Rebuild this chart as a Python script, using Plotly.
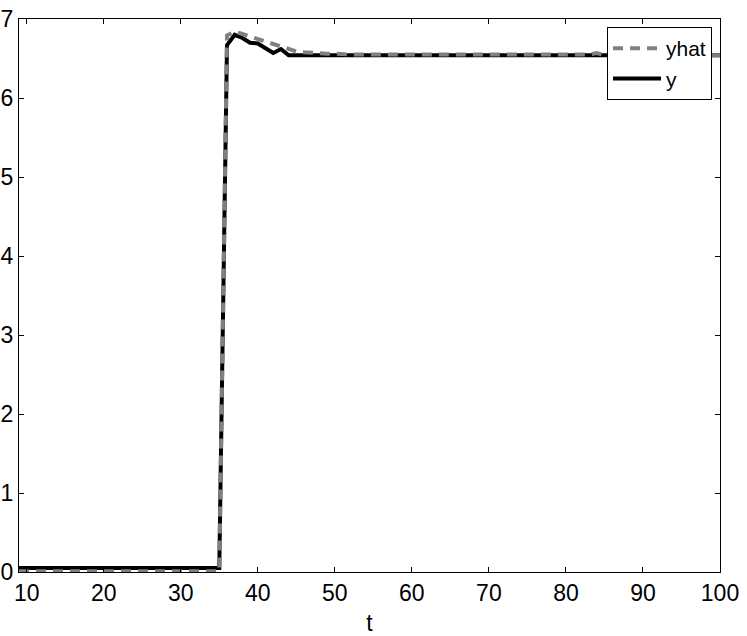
import plotly.graph_objects as go

t = list(range(9, 101))

y = ([0.05] * 27 +
     [6.67, 6.80, 6.76, 6.70, 6.69, 6.63, 6.57, 6.62, 6.54] +
     [6.54] * 56)

yhat = ([0.01] * 27 +
        [6.79, 6.84, 6.81, 6.78, 6.75, 6.72, 6.69, 6.66, 6.62, 6.59,
         6.58, 6.57, 6.57, 6.56, 6.56, 6.55, 6.55, 6.55, 6.55, 6.55] +
        [6.54] * 27 +
        [6.55, 6.57] +
        [6.54] * 16)

x_ticks = [10, 20, 30, 40, 50, 60, 70, 80, 90, 100]
y_ticks = [0, 1, 2, 3, 4, 5, 6, 7]

FONT = "Liberation Sans"

fig = go.Figure()
fig.add_trace(go.Scatter(x=t, y=y, name="y", mode="lines",
                         line=dict(color="black", width=4), legendrank=2))
fig.add_trace(go.Scatter(x=t, y=yhat, name="yhat", mode="lines",
                         line=dict(color="#808080", width=4, dash="10px,7px"),
                         legendrank=1))

axis_common = dict(showline=True, linecolor="black", linewidth=1, mirror="ticks",
                   ticks="inside", ticklen=5, tickcolor="black", showgrid=False,
                   zeroline=False, automargin=False,
                   tickfont=dict(family=FONT, size=23, color="black"))

fig.update_layout(
    width=747, height=636,
    margin=dict(l=19, r=27, t=19, b=64),
    plot_bgcolor="white", paper_bgcolor="white",
    xaxis=dict(range=[9, 100], tickvals=x_ticks,
               title=dict(text="t", font=dict(family=FONT, size=23, color="black")),
               **axis_common),
    yaxis=dict(range=[0, 7], tickvals=y_ticks, ticklabelstandoff=0, **axis_common),
    legend=dict(x=0.9886, y=0.9855, xanchor="right", yanchor="top",
                bgcolor="white", bordercolor="black", borderwidth=1,
                font=dict(family=FONT, size=21, color="black"),
                tracegroupgap=0, itemwidth=48),
    showlegend=True,
)

fig.write_html("out.html", config={"displayModeBar": False},
               post_script="document.body.style.margin='0';")
